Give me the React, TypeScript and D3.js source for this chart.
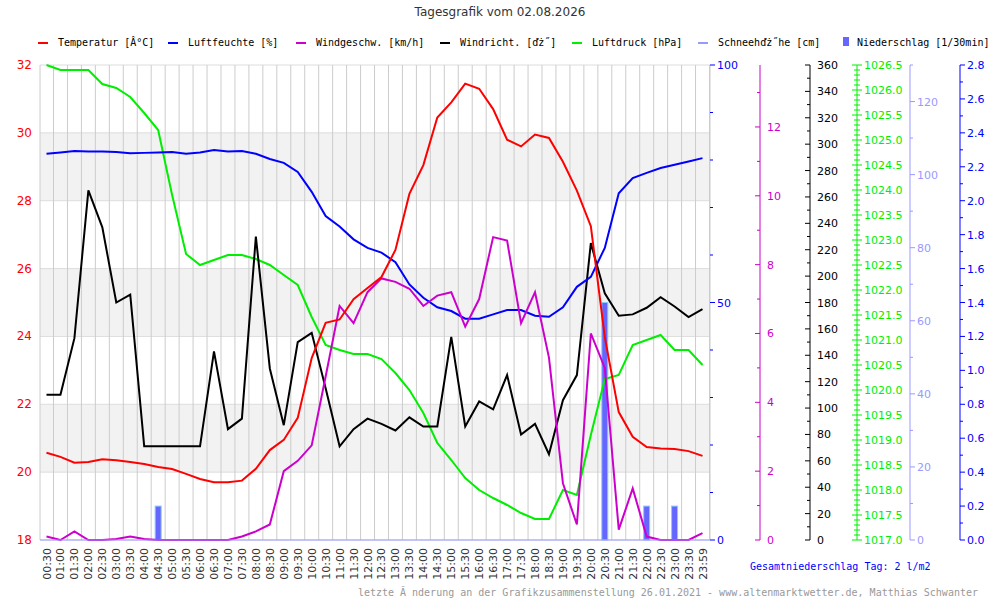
import React from "react";
import * as d3 from "d3";

const times = ["00:30","01:00","01:30","02:00","02:30","03:00","03:30","04:00","04:30","05:00","05:30","06:00","06:30","07:00","07:30","08:00","08:30","09:00","09:30","10:00","10:30","11:00","11:30","12:00","12:30","13:00","13:30","14:00","14:30","15:00","15:30","16:00","16:30","17:00","17:30","18:00","18:30","19:00","19:30","20:00","20:30","21:00","21:30","22:00","22:30","23:00","23:30","23:59"];
const temperature = [20.57,20.45,20.28,20.3,20.38,20.35,20.3,20.24,20.15,20.09,19.95,19.8,19.7,19.7,19.75,20.1,20.65,20.95,21.6,23.36,24.4,24.5,25.1,25.43,25.75,26.55,28.2,29.05,30.45,30.9,31.45,31.3,30.7,29.8,29.6,29.95,29.85,29.15,28.3,27.25,23.98,21.77,21.04,20.74,20.7,20.68,20.62,20.48];
const humidity = [81.3,81.6,81.9,81.8,81.8,81.7,81.4,81.5,81.6,81.7,81.3,81.6,82.1,81.8,81.9,81.3,80.2,79.4,77.5,73.3,68.2,66.0,63.3,61.5,60.5,58.5,53.8,51.0,49.0,48.2,46.6,46.6,47.5,48.4,48.4,47.2,47.0,49.0,53.3,55.4,61.5,73.0,76.2,77.3,78.3,79.0,79.7,80.4];
const windSpeed = [0.1,0,0.25,0,0,0.03,0.1,0.03,0,0,0,0,0,0,0.1,0.25,0.45,2.0,2.3,2.75,4.75,6.8,6.3,7.2,7.6,7.5,7.3,6.8,7.1,7.2,6.2,7.0,8.8,8.7,6.3,7.2,5.3,1.65,0.45,6.0,5.0,0.3,1.5,0.1,0,0,0,0.2];
const windDir = [110,110,153,265,237,180,186,71,71,71,71,71,143,84,92,230,130,87,150,157,115,71,84,92,88,83,93,86,86,154,86,105,99,125,80,88,65,106,125,225,187,170,171,176,184,177,169,175];
const pressure = [1026.5,1026.4,1026.4,1026.4,1026.12,1026.04,1025.86,1025.54,1025.2,1023.9,1022.72,1022.5,1022.6,1022.7,1022.7,1022.62,1022.5,1022.3,1022.1,1021.46,1020.9,1020.8,1020.72,1020.72,1020.62,1020.34,1020.0,1019.54,1018.94,1018.6,1018.24,1018.0,1017.84,1017.7,1017.54,1017.42,1017.42,1018.0,1017.9,1019.1,1020.22,1020.3,1020.9,1021.0,1021.1,1020.8,1020.8,1020.5];
const precip = [0,0,0,0,0,0,0,0,0.2,0,0,0,0,0,0,0,0,0,0,0,0,0,0,0,0,0,0,0,0,0,0,0,0,0,0,0,0,0,0,0,1.4,0,0,0.2,0,0.2,0,0];

const legendItems = [
  { label: "Temperatur [Â°C]", color: "#ff0000", x: 58 },
  { label: "Luftfeuchte [%]", color: "#0000ff", x: 188 },
  { label: "Windgeschw. [km/h]", color: "#cc00cc", x: 316 },
  { label: "Windricht. [ďż˝]", color: "#000000", x: 460 },
  { label: "Luftdruck [hPa]", color: "#00ee00", x: 592 },
  { label: "Schneehďż˝he [cm]", color: "#9999ff", x: 718 },
  { label: "Niederschlag [1/30min]", color: "#6666ff", x: 857, box: true },
];

const TOP = 65, BOT = 540, LEFT = 40, RIGHT = 710;
const x = d3.scaleLinear().domain([0, 47]).range([46.5, 702.5]);
const yT = d3.scaleLinear().domain([18, 32]).range([BOT, TOP]);
const yH = d3.scaleLinear().domain([0, 100]).range([BOT, TOP]);
const yW = d3.scaleLinear().domain([0, 13.8]).range([BOT, TOP]);
const yD = d3.scaleLinear().domain([0, 360]).range([BOT, TOP]);
const yP = d3.scaleLinear().domain([1017, 1026.5]).range([BOT, TOP]);
const yS = d3.scaleLinear().domain([0, 130]).range([BOT, TOP]);
const yR = d3.scaleLinear().domain([0, 2.8]).range([BOT, TOP]);

const font = "DejaVu Sans, sans-serif";
const mono = "DejaVu Sans Mono, monospace";

function path(vals: number[], y: d3.ScaleLinear<number, number>) {
  return d3.line<number>().x((_, i) => x(i)).y((v) => y(v))(vals) || "";
}

function Axis({ ax, scale, major, minor, fmt, color, side, line = true, labels }: any) {
  const [d0, d1] = scale.domain();
  const items: any[] = [];
  const n = Math.floor((d1 - d0) / minor + 1e-6);
  for (let k = 0; k <= n; k++) {
    const v = +(d0 + k * minor).toFixed(4);
    const isMajor = Math.abs(((v - d0) / major) - Math.round((v - d0) / major)) < 1e-6;
    const y = scale(v);
    const len = isMajor ? 5 : 3;
    const x1 = side === "left" || side === "both" ? ax - len : ax;
    const x2 = side === "left" ? ax : ax + len;
    items.push(<line key={"t" + k} x1={x1} x2={x2} y1={y} y2={y} stroke={color} strokeWidth={1} />);
    const show = labels ? labels.includes(v) : isMajor;
    if (show) items.push(<text key={"l" + k} x={ax + 7} y={y + 4} fill={color} fontSize={11} fontFamily={font}>{fmt(v)}</text>);
  }
  return <g>{line && <line x1={ax} x2={ax} y1={TOP} y2={BOT} stroke={color} />}{items}</g>;
}

export default function App() {
  const bw = 6;
  return (
    <svg width={1000} height={600} style={{ position: "absolute", left: 0, top: 0, background: "#fff" }}>
      <rect width={1000} height={600} fill="#fff" />
      <text x={500} y={16} textAnchor="middle" fontSize={12} fontFamily={font} fill="#333">Tagesgrafik vom 02.08.2026</text>
      {legendItems.map((l) => (
        <g key={l.label}>
          {l.box ? <rect x={l.x - 14} y={37} width={6} height={9} fill={l.color} />
            : <rect x={l.x - 20} y={42} width={10} height={2} fill={l.color} />}
          <text x={l.x} y={46} fontSize={10} fontFamily={mono} fill="#000">{l.label}</text>
        </g>
      ))}
      {[28, 24, 20].map((t) => (
        <rect key={t} x={LEFT} width={RIGHT - LEFT} y={yT(t + 2)} height={yT(t) - yT(t + 2)} fill="#f2f2f2" />
      ))}
      {d3.range(18, 33, 2).map((t) => (
        <line key={t} x1={LEFT} x2={RIGHT} y1={yT(t)} y2={yT(t)} stroke="#dddddd" />
      ))}
      {d3.range(0, 48).map((i) => (
        <line key={i} x1={x(i) + 7} x2={x(i) + 7} y1={TOP} y2={BOT} stroke="#cccccc" />
      ))}
      <line x1={LEFT} x2={LEFT} y1={TOP} y2={BOT} stroke="#cccccc" />
      {d3.range(18, 33, 2).map((t) => (
        <text key={t} x={32} y={yT(t) + 4} textAnchor="end" fill="#ff0000" fontSize={12} fontFamily={font}>{t}</text>
      ))}
      {precip.map((v, i) => v > 0 ? (
        <rect key={i} x={x(i) - bw / 2} y={yR(v)} width={bw} height={BOT - yR(v)} fill="#6666ff" stroke="#88ccff" strokeWidth={1} />
      ) : null)}
      <path d={path(pressure, yP)} fill="none" stroke="#00ee00" strokeWidth={2} />
      <path d={path(windDir, yD)} fill="none" stroke="#000" strokeWidth={2} />
      <path d={path(humidity, yH)} fill="none" stroke="#0000ff" strokeWidth={2} />
      <path d={path(windSpeed, yW)} fill="none" stroke="#cc00cc" strokeWidth={2} />
      <path d={path(temperature, yT)} fill="none" stroke="#ff0000" strokeWidth={2} />
      <line x1={LEFT} x2={RIGHT} y1={BOT} y2={BOT} stroke="#9999ff" />
      <line x1={RIGHT} x2={RIGHT} y1={TOP} y2={BOT} stroke="#cccccc" />
      {times.map((t, i) => (
        <text key={t} transform={`translate(${x(i) + 4},548) rotate(-90)`} textAnchor="end" fontSize={11} fontFamily={font} fill="#333">{t}</text>
      ))}
      <Axis ax={RIGHT} scale={yH} major={50} minor={10} fmt={(v: number) => v} color="#0000ff" side="right" line={false} labels={[0, 50, 100]} />
      <Axis ax={760} scale={yW} major={2} minor={1} fmt={(v: number) => v} color="#cc00cc" side="left" />
      <Axis ax={810} scale={yD} major={20} minor={10} fmt={(v: number) => v} color="#000000" side="left" />
      <Axis ax={857} scale={yP} major={0.5} minor={0.1} fmt={(v: number) => v.toFixed(1)} color="#00ee00" side="both" />
      <Axis ax={910} scale={yS} major={20} minor={10} fmt={(v: number) => v} color="#9999ff" side="right" />
      <Axis ax={960} scale={yR} major={0.2} minor={0.1} fmt={(v: number) => v.toFixed(1)} color="#0000ff" side="right" />
      <text x={750} y={570} fontSize={10} fontFamily={mono} fill="#0000ff">Gesamtniederschlag Tag: 2 l/m2</text>
      <text x={978} y={596} textAnchor="end" fontSize={10} fontFamily={mono} fill="#999">letzte Ă nderung an der Grafikzusammenstellung 26.01.2021 - www.altenmarktwetter.de, Matthias Schwanter</text>
    </svg>
  );
}
